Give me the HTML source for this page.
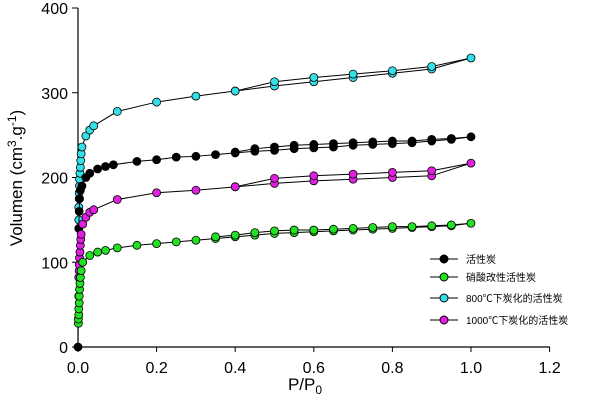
<!DOCTYPE html><html><head><meta charset="utf-8"><style>body{margin:0;background:#fff}svg{display:block}text{font-family:"Liberation Sans","Noto Sans CJK SC",sans-serif}</style></head><body>
<svg id="s" width="600" height="417" xmlns="http://www.w3.org/2000/svg">
<g stroke="#000" stroke-width="1.2" fill="none">
<line x1="78" y1="8" x2="78" y2="347"/><line x1="78" y1="347" x2="550" y2="347"/>
</g>
<g id="t" font-size="16" fill="#000"></g>
<text x="22" y="178" font-size="17" transform="rotate(-90 22 178)" text-anchor="middle">Volumen (cm<tspan dy="-6" font-size="12">3</tspan><tspan dy="6">.g</tspan><tspan dy="-6" font-size="12">-1</tspan><tspan dy="6">)</tspan></text>
<text x="305" y="390" font-size="17" text-anchor="middle">P/P<tspan dy="4" font-size="12">0</tspan></text>
<g id="d"></g>
<g font-size="10" fill="#000">
<line x1="430" y1="259" x2="458" y2="259" stroke="#000"/><circle cx="444" cy="259" r="4" fill="#000" stroke="#000"/><text x="466" y="263">活性炭</text>
<line x1="430" y1="277" x2="458" y2="277" stroke="#000"/><circle cx="444" cy="277" r="4" fill="#22e022" stroke="#000"/><text x="466" y="281">硝酸改性活性炭</text>
<line x1="430" y1="298" x2="458" y2="298" stroke="#000"/><circle cx="444" cy="298" r="4" fill="#33e0e8" stroke="#000"/><text x="466" y="302">800℃下炭化的活性炭</text>
<line x1="430" y1="320" x2="458" y2="320" stroke="#000"/><circle cx="444" cy="320" r="4" fill="#e020e0" stroke="#000"/><text x="466" y="324">1000℃下炭化的活性炭</text>
</g>
</svg>
<script>
const X=v=>78+v*393,Y=v=>347-v*0.8475,NS="http://www.w3.org/2000/svg";
const t=document.getElementById('t'),d=document.getElementById('d');
function el(n,a,p){const e=document.createElementNS(NS,n);for(const k in a)e.setAttribute(k,a[k]);(p||d).appendChild(e);return e;}
for(let i=0;i<=4;i++){el('line',{x1:72,x2:78,y1:Y(i*100),y2:Y(i*100),stroke:'#000'},t);const tx=el('text',{x:68,y:Y(i*100)+6,'text-anchor':'end'},t);tx.textContent=i*100;}
for(let i=0;i<=6;i++){const x=X(i*0.2);el('line',{x1:x,x2:x,y1:347,y2:352,stroke:'#000'},t);const tx=el('text',{x:x,y:373,'text-anchor':'middle'},t);tx.textContent=(i*0.2).toFixed(1);}
const S=[
['#33e0e8',[[0.002,150],[0.002,165],[0.003,175],[0.003,182],[0.004,190],[0.004,198],[0.005,205],[0.006,212],[0.007,220],[0.008,228],[0.01,236],[0.02,249],[0.03,256],[0.04,261],[0.1,278],[0.2,289],[0.3,296],[0.4,302],[0.5,308],[0.6,313],[0.7,318],[0.8,323],[0.9,328],[1.0,341]],[[0.9,331],[0.8,326],[0.7,322],[0.6,318],[0.5,313],[0.4,302]]],
['#000',[[0,0],[0.002,140],[0.003,160],[0.004,175],[0.006,185],[0.01,190],[0.02,200],[0.03,205],[0.05,210],[0.07,213],[0.09,215],[0.15,219],[0.2,221],[0.25,224],[0.3,225],[0.35,227],[0.4,229],[0.45,231],[0.5,232],[0.55,234],[0.6,235],[0.65,236],[0.7,238],[0.75,239],[0.8,240],[0.85,241],[0.9,243],[0.95,245],[1.0,248]],[[0.95,246],[0.9,245],[0.85,243],[0.8,243],[0.75,242],[0.7,241],[0.65,240],[0.6,239],[0.55,238],[0.5,236],[0.45,234],[0.4,230]]],
['#e020e0',[[0.002,60],[0.002,82],[0.003,90],[0.003,97],[0.004,105],[0.005,112],[0.006,120],[0.007,127],[0.008,133],[0.012,145],[0.02,153],[0.03,159],[0.04,162],[0.1,174],[0.2,182],[0.3,185],[0.4,189],[0.5,193],[0.6,196],[0.7,198],[0.8,200],[0.9,202],[1.0,217]],[[0.9,208],[0.8,206],[0.7,204],[0.6,202],[0.5,199],[0.4,189]]],
['#22e022',[[0.001,28],[0.001,33],[0.002,38],[0.002,45],[0.003,52],[0.003,60],[0.004,68],[0.005,75],[0.006,82],[0.008,90],[0.012,100],[0.03,108],[0.05,112],[0.07,114],[0.1,117],[0.15,120],[0.2,122],[0.25,124],[0.3,126],[0.35,128],[0.4,130],[0.45,132],[0.5,134],[0.55,135],[0.6,136],[0.65,137],[0.7,138],[0.75,139],[0.8,140],[0.85,141],[0.9,142],[0.95,143],[1.0,146]],[[0.95,144],[0.9,143],[0.85,142],[0.8,142],[0.75,141],[0.7,140],[0.65,139],[0.6,138],[0.55,138],[0.5,137],[0.45,135],[0.4,132],[0.35,130]]]
];
for(const [c,a,b] of S){
 el('polyline',{points:a.map(p=>X(p[0])+','+Y(p[1])).join(' '),fill:'none',stroke:'#000','stroke-width':1});
 el('polyline',{points:[a[a.length-1]].concat(b).map(p=>X(p[0])+','+Y(p[1])).join(' '),fill:'none',stroke:'#000','stroke-width':1});
 for(const p of a.concat(b))el('circle',{cx:X(p[0]),cy:Y(p[1]),r:4,fill:c,stroke:'#000','stroke-width':0.8});
}
</script>
</body></html>
